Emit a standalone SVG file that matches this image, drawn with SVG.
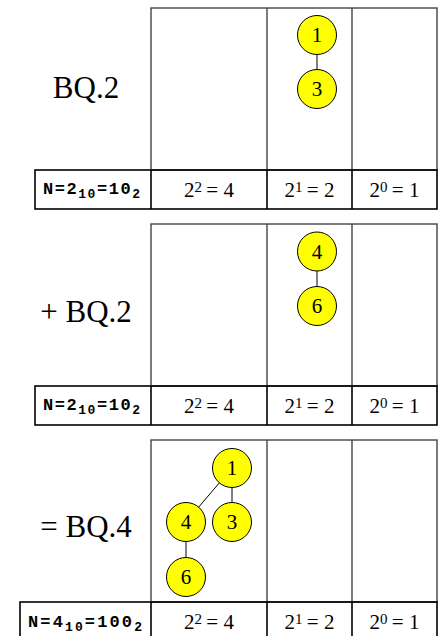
<svg xmlns="http://www.w3.org/2000/svg" width="442" height="636" viewBox="0 0 442 636">
<style>
.box{fill:none;stroke:#444;stroke-width:1.4}
.row{fill:none;stroke:#000;stroke-width:1.6}
.lbl{font-family:"Liberation Serif","Times New Roman",serif;font-size:31px;text-anchor:middle;fill:#000}
.pw{font-family:"Liberation Serif","Times New Roman",serif;font-size:21px;text-anchor:middle;fill:#000}
.sup{font-size:15px}
.n{font-family:"Liberation Mono","Courier New",monospace;font-weight:bold;font-size:17px;fill:#000}
.sub{font-size:13px}
.node circle{fill:#ffff00;stroke:#000;stroke-width:1}
.node text{font-family:"Liberation Serif","Times New Roman",serif;font-size:21px;text-anchor:middle;fill:#000}
.edge{stroke:#000;stroke-width:1}
</style>
<rect width="442" height="636" fill="#fff"/>

<!-- Panel 1 -->
<g id="panel1">
  <rect class="box" x="151" y="8" width="286" height="162"/>
  <line class="box" x1="267" y1="8" x2="267" y2="170"/>
  <line class="box" x1="352" y1="8" x2="352" y2="170"/>
  <rect class="row" x="35" y="170" width="402" height="39"/>
  <line class="row" x1="151" y1="170" x2="151" y2="209"/>
  <line class="row" x1="267" y1="170" x2="267" y2="209"/>
  <line class="row" x1="352" y1="170" x2="352" y2="209"/>
  <text class="lbl" x="86" y="98">BQ.2</text>
  <text class="n" x="43" y="194" textLength="97" lengthAdjust="spacing">N=2<tspan class="sub" dy="4">10</tspan><tspan dy="-4">=10</tspan><tspan class="sub" dy="4">2</tspan></text>
  <text class="pw" x="209" y="197">2<tspan class="sup" dy="-5.5">2</tspan><tspan dy="5.5">&#8201;= 4</tspan></text>
  <text class="pw" x="309.5" y="197">2<tspan class="sup" dy="-5.5">1</tspan><tspan dy="5.5">&#8201;= 2</tspan></text>
  <text class="pw" x="394.5" y="197">2<tspan class="sup" dy="-5.5">0</tspan><tspan dy="5.5">&#8201;= 1</tspan></text>
</g>

<!-- Panel 2 -->
<g id="panel2">
  <rect class="box" x="151" y="224" width="286" height="162"/>
  <line class="box" x1="267" y1="224" x2="267" y2="386"/>
  <line class="box" x1="352" y1="224" x2="352" y2="386"/>
  <rect class="row" x="35" y="386" width="402" height="39"/>
  <line class="row" x1="151" y1="386" x2="151" y2="425"/>
  <line class="row" x1="267" y1="386" x2="267" y2="425"/>
  <line class="row" x1="352" y1="386" x2="352" y2="425"/>
  <text class="lbl" x="86" y="322">+ BQ.2</text>
  <text class="n" x="43" y="410" textLength="97" lengthAdjust="spacing">N=2<tspan class="sub" dy="4">10</tspan><tspan dy="-4">=10</tspan><tspan class="sub" dy="4">2</tspan></text>
  <text class="pw" x="209" y="413">2<tspan class="sup" dy="-5.5">2</tspan><tspan dy="5.5">&#8201;= 4</tspan></text>
  <text class="pw" x="309.5" y="413">2<tspan class="sup" dy="-5.5">1</tspan><tspan dy="5.5">&#8201;= 2</tspan></text>
  <text class="pw" x="394.5" y="413">2<tspan class="sup" dy="-5.5">0</tspan><tspan dy="5.5">&#8201;= 1</tspan></text>
</g>

<!-- Panel 3 -->
<g id="panel3">
  <rect class="box" x="151" y="440" width="286" height="162"/>
  <line class="box" x1="267" y1="440" x2="267" y2="602"/>
  <line class="box" x1="352" y1="440" x2="352" y2="602"/>
  <rect class="row" x="20" y="602" width="417" height="40"/>
  <line class="row" x1="151" y1="602" x2="151" y2="642"/>
  <line class="row" x1="267" y1="602" x2="267" y2="642"/>
  <line class="row" x1="352" y1="602" x2="352" y2="642"/>
  <text class="lbl" x="86" y="537">= BQ.4</text>
  <text class="n" x="28" y="626.5" textLength="114" lengthAdjust="spacing">N=4<tspan class="sub" dy="4">10</tspan><tspan dy="-4">=100</tspan><tspan class="sub" dy="4">2</tspan></text>
  <text class="pw" x="209" y="629">2<tspan class="sup" dy="-5.5">2</tspan><tspan dy="5.5">&#8201;= 4</tspan></text>
  <text class="pw" x="309.5" y="629">2<tspan class="sup" dy="-5.5">1</tspan><tspan dy="5.5">&#8201;= 2</tspan></text>
  <text class="pw" x="394.5" y="629">2<tspan class="sup" dy="-5.5">0</tspan><tspan dy="5.5">&#8201;= 1</tspan></text>
</g>

<!-- Connectors -->
<g id="connectors">
  <line class="edge" x1="317" y1="35" x2="317" y2="89"/>
  <line class="edge" x1="317" y1="251.5" x2="317" y2="306"/>
  <line class="edge" x1="232" y1="468" x2="186" y2="522"/>
  <line class="edge" x1="232" y1="468" x2="232" y2="522"/>
  <line class="edge" x1="186" y1="522" x2="186" y2="577"/>
</g>

<!-- Nodes -->
<g id="p1n1" class="node"><circle cx="317" cy="35" r="19.5"/><text x="317" y="42.2">1</text></g>
<g id="p1n3" class="node"><circle cx="317" cy="89" r="19.5"/><text x="317" y="96.2">3</text></g>
<g id="p2n4" class="node"><circle cx="317" cy="251.5" r="19.5"/><text x="317" y="258.7">4</text></g>
<g id="p2n6" class="node"><circle cx="317" cy="306" r="19.5"/><text x="317" y="313.2">6</text></g>
<g id="p3n1" class="node"><circle cx="232" cy="468" r="19.5"/><text x="232" y="475.2">1</text></g>
<g id="p3n4" class="node"><circle cx="186" cy="522" r="19.5"/><text x="186" y="529.2">4</text></g>
<g id="p3n3" class="node"><circle cx="232" cy="522" r="19.5"/><text x="232" y="529.2">3</text></g>
<g id="p3n6" class="node"><circle cx="186" cy="577" r="19.5"/><text x="186" y="584.2">6</text></g>
</svg>
